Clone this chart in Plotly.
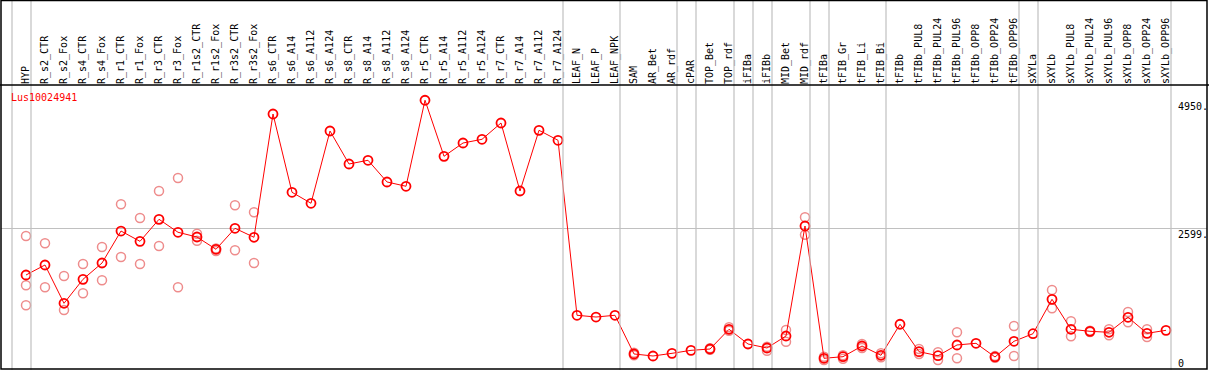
import plotly.graph_objects as go

categories = ["HYP", "R_s2_CTR", "R_s2_Fox", "R_s4_CTR", "R_s4_Fox", "R_r1_CTR", "R_r1_Fox",
              "R_r3_CTR", "R_r3_Fox", "R_r1s2_CTR", "R_r1s2_Fox", "R_r3s2_CTR", "R_r3s2_Fox",
              "R_s6_CTR", "R_s6_A14", "R_s6_A112", "R_s6_A124", "R_s8_CTR", "R_s8_A14", "R_s8_A112",
              "R_s8_A124", "R_r5_CTR", "R_r5_A14", "R_r5_A112", "R_r5_A124", "R_r7_CTR", "R_r7_A14",
              "R_r7_A112", "R_r7_A124", "LEAF_N", "LEAF_P", "LEAF_NPK", "SAM", "AR_Bet", "AR_rdf",
              "cPAR", "TOP_Bet", "TOP_rdf", "iFIBa", "iFIBb", "MID_Bet", "MID_rdf", "tFIBa",
              "tFIB_Gr", "tFIB_Li", "tFIB_Bi", "tFIBb", "tFIBb_PUL8", "tFIBb_PUL24", "tFIBb_PUL96",
              "tFIBb_OPP8", "tFIBb_OPP24", "tFIBb_OPP96", "sXYLa", "sXYLb", "sXYLb_PUL8",
              "sXYLb_PUL24", "sXYLb_PUL96", "sXYLb_OPP8", "sXYLb_OPP24", "sXYLb_OPP96"]

mean_values = [1743, 1927, 1224, 1664, 1963, 2550, 2361, 2765, 2527, 2440, 2215, 2600, 2435,
               4697, 3261, 3059, 4385, 3780, 3848, 3450, 3371, 4950, 3921, 4165, 4233, 4532, 3284,
               4398, 4215, 1004, 972, 1004, 294, 257, 306, 361, 385, 747, 477, 404, 624, 2642,
               215, 244, 440, 270, 839, 336, 262, 459, 490, 239, 527, 666, 1297, 747, 710, 692,
               967, 673, 728]

N = None
rep_a = [2459, 2325, 1725, 1945, 2257, 3040, 2789, 3284, 3523, 2501, 2229, 3022, 2894,
         N, N, N, N, N, N, N, N, N, N, N, N, N, N, N, N, N, N, N,
         317, N, N, N, 400, 783, N, 428, 734, 2802, 244, 270, 477, 306, N, 385, 325, 692,
         N, 255, 807, N, 1468, 894, 721, 747, 1064, 747, N]
rep_b = [1554, 1517, 1101, 1407, 1646, 2073, 1945, 2275, 1517, 2372, 2183, 2196, 1963,
         N, N, N, N, N, N, N, N, N, N, N, N, N, N, N, N, N, N, N,
         270, N, N, N, 370, 721, N, 354, 519, 2483, 183, 207, 404, 233, N, 294, 183, 215,
         N, 225, 257, N, 1132, 618, 697, 637, 875, 606, N]
rep_c = [1187] + [N] * 60

y_ticks = [4950, 2599, 0]
y_tick_text = ["4950.", "2599.", "0"]
group_last_index = [-1, 0, 28, 31, 34, 35, 37, 38, 39, 41, 42, 45, 52, 53, 60]
gene_label = "Lus10024941"

W, H = 1209, 370
ML, MR, MT, MB = 1, 2, 85, 0
PW, PH = W - ML - MR, H - MT - MB
STEP = 19.0
X0PX = 26.0
xmin = -(X0PX - ML) / STEP
xmax = xmin + PW / STEP
PXPERUNIT = 0.0545
ymax = PH / PXPERUNIT

def xp(px):
    return (px - ML) / PW

def yp(py):
    return (H - MB - py) / PH

x_idx = list(range(len(categories)))
mono = "DejaVu Sans Mono"
fig = go.Figure()

for reps in (rep_a, rep_b, rep_c):
    fig.add_trace(go.Scatter(
        x=x_idx, y=reps, mode="markers",
        marker=dict(symbol="circle-open", size=9, color="rgb(238,140,140)", line=dict(width=1.5)),
        hoverinfo="skip", showlegend=False))

fig.add_trace(go.Scatter(
    x=x_idx, y=mean_values, mode="lines+markers",
    line=dict(color="red", width=1),
    marker=dict(symbol="circle-open", size=9, color="red", line=dict(width=1.8)),
    showlegend=False))

shapes = []
for gi in group_last_index:
    sx = (gi + 5.0 / STEP - xmin) / (xmax - xmin)
    shapes.append(dict(type="line", xref="paper", yref="paper", x0=sx, x1=sx,
                       y0=yp(H), y1=yp(0), line=dict(color="rgb(192,192,192)", width=1.2)))
shapes.append(dict(type="line", xref="paper", yref="paper", x0=xp(0), x1=xp(W),
                   y0=yp(85), y1=yp(85), line=dict(color="black", width=1.5)))
shapes.append(dict(type="rect", xref="paper", yref="paper", x0=xp(1), x1=xp(1207),
                   y0=yp(369), y1=yp(0.5), line=dict(color="black", width=1.5)))

annotations = [dict(text=gene_label, xref="paper", yref="paper", x=xp(9), y=yp(97),
                    xanchor="left", yanchor="middle", showarrow=False,
                    font=dict(family=mono, size=10, color="red"))]
for v, t in zip(y_ticks, y_tick_text):
    annotations.append(dict(text=t, xref="paper", yref="y", x=xp(1177), y=v,
                            xanchor="left", yanchor="bottom" if v == 0 else "top",
                            showarrow=False, borderpad=0,
                            font=dict(family=mono, size=10, color="black")))

fig.update_layout(
    width=W, height=H, margin=dict(l=ML, r=MR, t=MT, b=MB, pad=0),
    paper_bgcolor="white", plot_bgcolor="white",
    xaxis=dict(range=[xmin, xmax], side="top", tickmode="array", tickvals=x_idx,
               ticktext=categories, tickangle=-90, showgrid=False, zeroline=False,
               showline=False, ticks="", automargin=False,
               tickfont=dict(family=mono, size=10, color="black")),
    yaxis=dict(range=[0, ymax], tickmode="array", tickvals=[2599], showticklabels=False,
               showgrid=True, gridcolor="rgb(192,192,192)", gridwidth=1.2, automargin=False,
               zeroline=False, showline=False, ticks=""),
    shapes=shapes, annotations=annotations,
)

fig.write_html("out.html", config={"displayModeBar": False},
               post_script="document.body.style.margin='0';document.body.style.overflow='hidden';")
